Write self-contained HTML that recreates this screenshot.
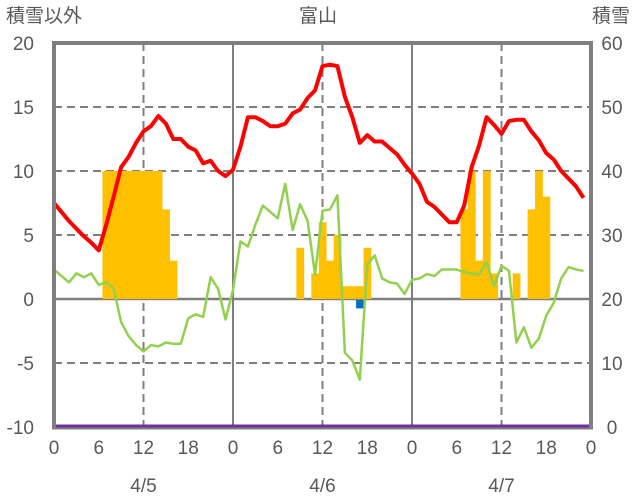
<!DOCTYPE html>
<html><head><meta charset="utf-8"><style>
html,body{margin:0;padding:0;background:#fff;}
svg{display:block;font-family:"Liberation Sans","Noto Sans CJK JP",sans-serif;}
</style></head><body>
<svg id="chart" width="636" height="501" viewBox="0 0 636 501" xmlns="http://www.w3.org/2000/svg">
<g id="grid"></g>
<g id="bars"></g>
<g id="lines"></g>
<g id="frame"></g>
<g id="labels" fill="#595959"></g>
<text x="6" y="22" font-size="19" fill="#595959">積雪以外</text>
<text x="318" y="22" font-size="19" fill="#595959" text-anchor="middle">富山</text>
<text x="630" y="22" font-size="19" fill="#595959" text-anchor="end">積雪</text>
</svg>
<script>
const leftTicks=[20,15,10,5,0,-5,-10];
const rightTicks=[60,50,40,30,20,10,0];
const hourTicks=["0","6","12","18","0","6","12","18","0","6","12","18","0"];
const dates=["4/5","4/6","4/7"];
const temp=[7.5,6.8,6.1,5.5,4.9,4.4,3.8,5.8,8.0,10.3,11.1,12.2,13.1,13.5,14.3,13.7,12.5,12.5,11.9,11.6,10.6,10.8,10.0,9.6,
10.1,11.9,14.2,14.2,13.9,13.5,13.5,13.7,14.5,14.8,15.7,16.3,18.2,18.3,18.2,15.8,14.2,12.2,12.8,12.3,12.3,11.8,11.3,10.5,
9.8,9.0,7.6,7.2,6.6,6.0,6.0,7.3,10.3,12.0,14.2,13.6,12.9,13.9,14.0,14.0,13.1,12.4,11.4,10.9,10.0,9.4,8.8,7.9];
const other=[2.3,1.8,1.3,2.0,1.7,2.0,1.1,1.3,0.8,-1.8,-2.9,-3.6,-4.1,-3.6,-3.7,-3.4,-3.5,-3.5,-1.5,-1.2,-1.4,1.7,0.8,-1.6,
0.7,4.5,4.1,5.8,7.3,6.8,6.3,9.0,5.4,7.4,6.1,1.9,6.9,7.0,8.1,-4.2,-4.8,-6.3,2.7,3.4,1.6,1.3,1.2,0.4,
1.5,1.6,1.95,1.8,2.3,2.3,2.3,2.1,2.0,1.9,2.9,1.0,2.6,2.2,-3.4,-2.2,-3.8,-3.1,-1.3,-0.3,1.6,2.5,2.3,2.2];
const barHours=[7,8,9,10,11,12,13,14,15,16,33,35,36,37,38,39,40,41,42,55,56,57,58,59,62,64,65,66];
const barValues=[10,10,10,10,10,10,10,10,7,3,4,2,6,3,5,1,1,1,4,7,10,3,10,2,2,7,10,8];
const negHours=[41];
const negValues=[-0.5];
const depth=[0,0,0,0,0,0,0,0,0,0,0,0,0,0,0,0,0,0,0,0,0,0,0,0,0,0,0,0,0,0,0,0,0,0,0,0,0,0,0,0,0,0,0,0,0,0,0,0,0,0,0,0,0,0,0,0,0,0,0,0,0,0,0,0,0,0,0,0,0,0,0,0];

const NS="http://www.w3.org/2000/svg";
const X0=54,X1=591,Y0=43,Y1=427;
const xh=h=>X0+h*(X1-X0)/72;
const yl=v=>Y1-(v+10)*(Y1-Y0)/30;
const yr=v=>Y1-v*(Y1-Y0)/60;
function mk(tag,attrs,parent){const e=document.createElementNS(NS,tag);for(const k in attrs)e.setAttribute(k,attrs[k]);parent.appendChild(e);return e;}
const grid=document.getElementById('grid');
leftTicks.forEach(v=>{if(v===20||v===-10||v===0)return;
 const l=mk('line',{x1:X0,x2:X1,y1:yl(v),y2:yl(v),stroke:'#7f7f7f','stroke-width':2,'stroke-dasharray':'8,5'},grid);
 
 });
for(let d=0;d<3;d++){const l=mk('line',{x1:xh(d*24+12),x2:xh(d*24+12),y1:Y0,y2:Y1,stroke:'#7f7f7f','stroke-width':2,'stroke-dasharray':'8,5'},grid);
 
 }
for(let d=1;d<3;d++){const l=mk('line',{x1:xh(d*24),x2:xh(d*24),y1:Y0,y2:Y1,stroke:'#7f7f7f','stroke-width':2},grid);
 
 }
const zl=mk('line',{x1:X0,x2:X1,y1:yl(0),y2:yl(0),stroke:'#7f7f7f','stroke-width':2.5},grid);



const bars=document.getElementById('bars');
barHours.forEach((h,i)=>{const x=xh(h-0.5),w=xh(h+0.5)-x;
 const r=mk('rect',{x:x,y:yl(barValues[i]),width:w+0.3,height:yl(0)-yl(barValues[i]),fill:'#ffc000'},bars);
 
 });
negHours.forEach((h,i)=>{const x=xh(h-0.5),w=xh(h+0.5)-x;
 const r=mk('rect',{x:x,y:yl(0)+1,width:w,height:yl(negValues[i])-yl(0)+2,fill:'#0070c0'},bars);
 
 });

const lines=document.getElementById('lines');
function poly(arr,f,color,w,name){const p=mk('polyline',{points:arr.map((v,i)=>xh(i)+','+f(v)).join(' '),fill:'none',stroke:color,'stroke-width':w,'stroke-linejoin':'round'},lines);
 
 }
poly(other,yl,'#92d050',2.5,'other-series-line');
poly(temp,yl,'#ff0000',4,'temperature-line');
const dp=mk('polyline',{points:depth.map((v,i)=>xh(i)+','+(yr(v)-1)).join(' ')+' '+X1+','+(yr(0)-1),fill:'none',stroke:'#7030a0','stroke-width':3},lines);



const frame=document.getElementById('frame');
mk('path',{d:`M${X0},${Y1+1} L${X0},${Y0} L${X1} ${Y0} L${X1},${Y1+1}`,fill:'none',stroke:'#7f7f7f','stroke-width':4},frame);
mk('line',{x1:X0-2,x2:X1+2,y1:Y1+1.5,y2:Y1+1.5,stroke:'#7f7f7f','stroke-width':2},frame);

const labels=document.getElementById('labels');
leftTicks.forEach(v=>{const t=mk('text',{x:34,y:yl(v)+7,'font-size':19,'text-anchor':'end'},labels);t.textContent=v;
 
 });
rightTicks.forEach((v,i)=>{const t=mk('text',{x:612,y:yl(leftTicks[i])+7,'font-size':19,'text-anchor':'middle'},labels);t.textContent=v;
 
 });
hourTicks.forEach((s,i)=>{const t=mk('text',{x:xh(i*6),y:454,'font-size':19,'text-anchor':'middle'},labels);t.textContent=s;
 
 });
dates.forEach((s,i)=>{const t=mk('text',{x:xh(i*24+12),y:492,'font-size':19,'text-anchor':'middle'},labels);t.textContent=s;
 
 });
</script>
</body></html>
